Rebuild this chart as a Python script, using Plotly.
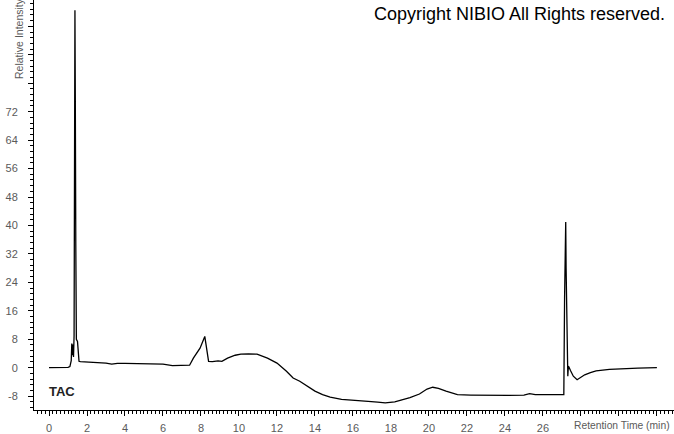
import plotly.graph_objects as go

retention_time = [0.0, 0.5, 1.0, 1.1, 1.17, 1.2, 1.23, 1.26, 1.29, 1.32, 1.345, 1.365, 1.385, 1.41,
                  1.44, 1.5, 1.53, 1.58, 1.65, 2.0, 2.5, 3.0, 3.3, 3.6, 4.0, 4.5, 5.0, 5.5, 6.0, 6.5,
                  7.0, 7.4, 7.6, 7.95, 8.2, 8.3, 8.4, 8.6, 8.9, 9.1, 9.4, 9.8, 10.1, 10.5, 10.95,
                  11.5, 12.0, 12.5, 12.85, 13.2, 13.6, 14.0, 14.4, 14.8, 15.4, 16.1, 16.8, 17.3, 17.7,
                  18.2, 18.6, 19.0, 19.5, 19.9, 20.2, 20.5, 20.9, 21.5, 22.2, 23.2, 24.2, 25.0, 25.3,
                  25.6, 26.3, 27.1, 27.14, 27.17, 27.2, 27.22, 27.25, 27.28, 27.31, 27.34, 27.37,
                  27.45, 27.6, 27.8, 28.0, 28.2, 28.5, 28.8, 29.5, 30.0, 31.0, 32.0]
relative_intensity = [0.0, 0.0, 0.1, 0.3, 2.0, 6.8, 3.5, 6.5, 3.0, 9.0, 48.0, 100.5, 75.0, 35.0,
                      8.0, 7.4, 4.0, 1.8, 1.7, 1.6, 1.4, 1.3, 1.0, 1.2, 1.2, 1.1, 1.0, 1.0, 1.0, 0.6,
                      0.6, 0.7, 2.7, 5.5, 8.8, 5.5, 1.8, 1.7, 1.9, 1.8, 2.7, 3.5, 3.8, 3.9, 3.8,
                      2.7, 1.3, -1.0, -2.9, -3.8, -5.2, -6.6, -7.6, -8.3, -8.9, -9.3, -9.5, -9.7, -9.9,
                      -9.6, -9.1, -8.4, -7.4, -6.0, -5.5, -5.8, -6.6, -7.6, -7.7, -7.8, -7.8, -7.7, -7.3,
                      -7.6, -7.6, -7.6, 19.5, 29.0, 41.0, 28.0, 19.0, 0.5, -2.4, 0.4, 0.2,
                      -0.8, -2.4, -3.4, -2.6, -2.0, -1.4, -0.9, -0.5, -0.3, -0.1, 0.0]

x_tick_values = [0, 2, 4, 6, 8, 10, 12, 14, 16, 18, 20, 22, 24, 26, 28, 30, 32]
x_tick_labels = ["0", "2", "4", "6", "8", "10", "12", "14", "16", "18", "20", "22", "24", "26", "", "", ""]
y_tick_values = [-8, 0, 8, 16, 24, 32, 40, 48, 56, 64, 72, 80, 88, 96]
y_tick_labels = ["-8", "0", "8", "16", "24", "32", "40", "48", "56", "64", "72", "", "", ""]

title_text = "Copyright NIBIO All Rights reserved."
y_title = "Relative Intensity"
x_title = "Retention Time (min)"
trace_label = "TAC"

fig = go.Figure()
fig.add_trace(go.Scatter(x=retention_time, y=relative_intensity, mode="lines",
                         line=dict(color="black", width=1.3), showlegend=False, hoverinfo="skip"))

tick_font = dict(family="Liberation Sans, Arial, sans-serif", size=11, color="#5a5a5a")

fig.update_layout(
    width=674, height=434,
    margin=dict(l=34, r=0, t=0, b=22),
    paper_bgcolor="white", plot_bgcolor="white",
    xaxis=dict(range=[-0.79, 32.9], tickmode="array", tickvals=x_tick_values, ticktext=x_tick_labels,
               showgrid=False, zeroline=False, showline=True, linecolor="black", linewidth=1,
               ticks="outside", ticklen=5, tickcolor="black", tickfont=tick_font, ticklabelstandoff=3,
               minor=dict(dtick=0.2, tick0=0, ticks="outside", ticklen=3, tickcolor="black", showgrid=False)),
    yaxis=dict(range=[-11.9, 103.4], tickmode="array", tickvals=y_tick_values, ticktext=y_tick_labels,
               showgrid=False, zeroline=False, showline=True, linecolor="black", linewidth=1,
               ticks="outside", ticklen=5, tickcolor="black", tickfont=tick_font, ticklabelstandoff=8,
               minor=dict(dtick=1.6, tick0=0, ticks="outside", ticklen=3, tickcolor="black", showgrid=False)),
    annotations=[
        dict(text=title_text, xref="paper", yref="paper", x=0.989, y=0.967, xanchor="right", yanchor="middle",
             showarrow=False, font=dict(family="Liberation Sans, Arial, sans-serif", size=18, color="black")),
        dict(text=y_title, xref="paper", yref="paper", x=-0.0234, y=0.905, xanchor="center", yanchor="middle",
             textangle=-90, showarrow=False,
             font=dict(family="Liberation Sans, Arial, sans-serif", size=10.5, color="#5a5a5a")),
        dict(text=x_title, xref="paper", yref="paper", x=0.997, y=-0.039, xanchor="right", yanchor="middle",
             showarrow=False, font=dict(family="Liberation Sans, Arial, sans-serif", size=10.3, color="#5a5a5a")),
        dict(text="<b>" + trace_label + "</b>", xref="paper", yref="paper", x=0.0203, y=0.046,
             xanchor="left", yanchor="middle", showarrow=False,
             font=dict(family="Liberation Sans, Arial, sans-serif", size=13, color="#222222")),
    ],
)

fig.write_html("out.html", config={"displayModeBar": False},
               post_script="document.body.style.margin='0';document.body.style.overflow='hidden';")
